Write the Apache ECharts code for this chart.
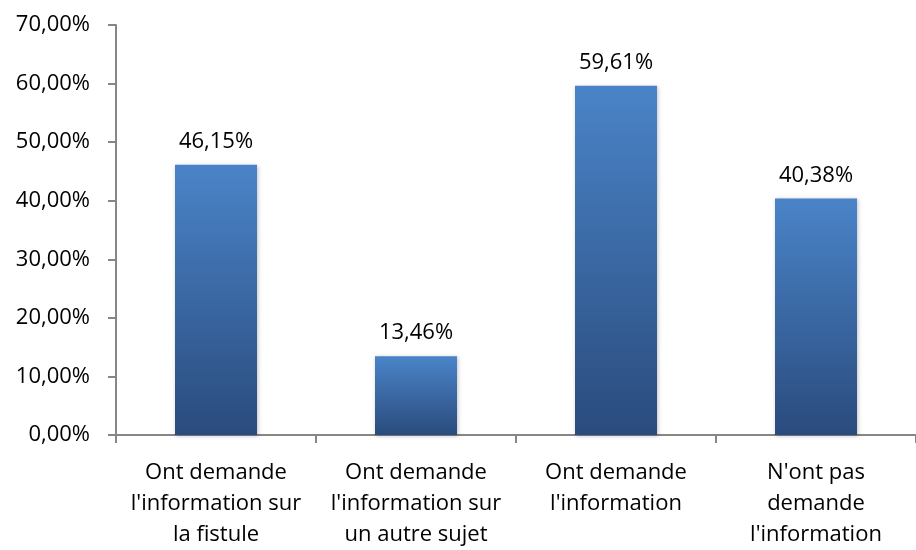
<!DOCTYPE html>
<html><head><meta charset="utf-8">
<script src="https://cdn.jsdelivr.net/npm/echarts@6/dist/echarts.min.js"></script>
<style>html,body{margin:0;padding:0;background:#fff}#c{width:916px;height:550px}</style>
</head><body><div id="c"></div>
<script>
const categories = ["Ont demande\nl'information sur\nla fistule", "Ont demande\nl'information sur\nun autre sujet", "Ont demande\nl'information", "N'ont pas\ndemande\nl'information"];
const values = [46.15, 13.46, 59.61, 40.38];
const yTicks = {min: 0, max: 70, interval: 10};
const fmt = v => v.toFixed(2).replace('.', ',') + '%';
const chart = echarts.init(document.getElementById('c'));
const font = 'Open Sans, Noto Sans, sans-serif';
chart.setOption({
  animation: false,
  grid: {left: 116, right: 0, top: 25, bottom: 111, containLabel: false},
  xAxis: {
    type: 'category', data: categories,
    axisLine: {lineStyle: {color: '#868686', width: 2}},
    axisTick: {show: true, length: 8, lineStyle: {color: '#868686', width: 2}},
    axisLabel: {color: '#000', fontFamily: font, fontSize: 22, lineHeight: 31, margin: 22, interval: 0}
  },
  yAxis: {
    type: 'value', min: yTicks.min, max: yTicks.max, interval: yTicks.interval,
    axisLine: {show: true, lineStyle: {color: '#868686', width: 2}},
    axisTick: {show: true, length: 8, lineStyle: {color: '#868686', width: 2}},
    splitLine: {show: false},
    axisLabel: {color: '#000', fontFamily: font, fontSize: 22, margin: 26, formatter: v => fmt(v)}
  },
  series: [{
    type: 'bar', data: values, barWidth: 82,
    itemStyle: {
      color: new echarts.graphic.LinearGradient(0, 0, 0, 1, [
        {offset: 0, color: '#4a84c8'}, {offset: 1, color: '#2a4b7d'}
      ]),
      shadowColor: 'rgba(0,0,0,0.25)', shadowBlur: 4, shadowOffsetX: 1, shadowOffsetY: 1
    },
    label: {show: true, position: 'top', distance: 12, color: '#000', fontFamily: font, fontSize: 22, formatter: p => fmt(p.value)}
  }]
});
</script></body></html>
